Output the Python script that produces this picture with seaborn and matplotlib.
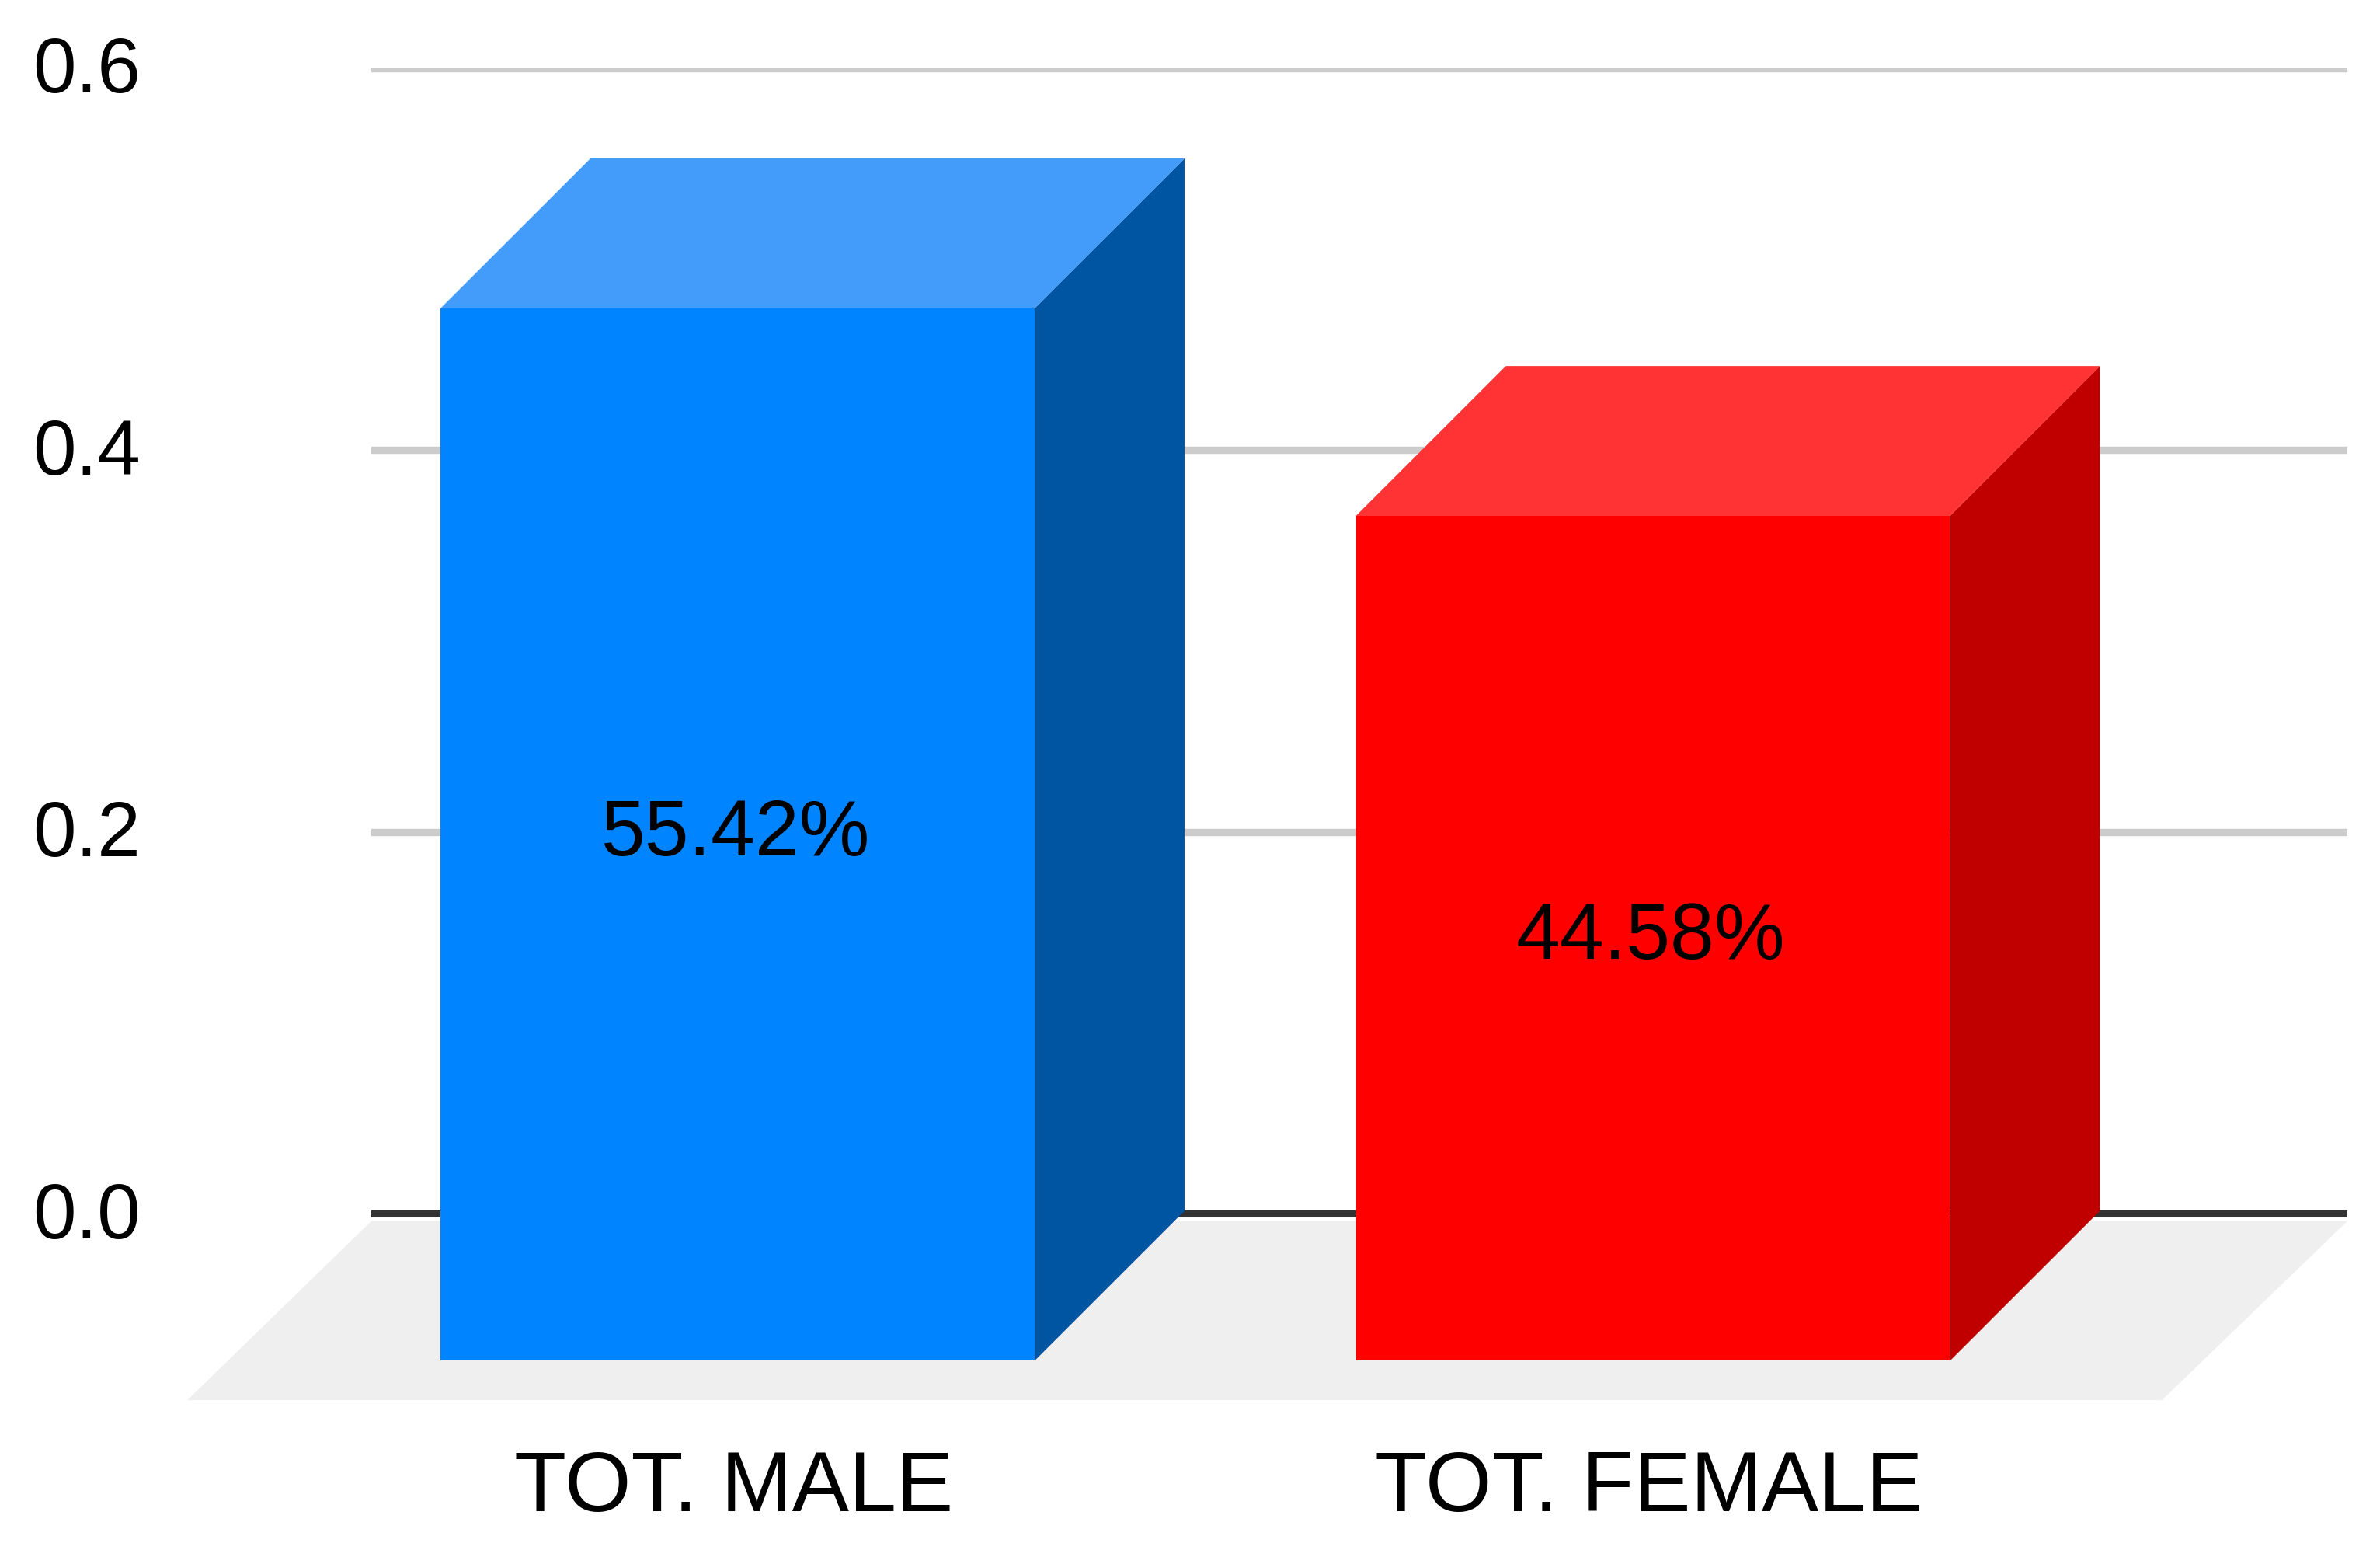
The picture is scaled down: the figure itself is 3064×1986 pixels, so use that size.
"""3D style bar chart: total male vs total female"""

import matplotlib
matplotlib.use("Agg")
import matplotlib.pyplot as plt
import matplotlib.transforms as mtrans
import seaborn as sns

categories = ["TOT. MALE", "TOT. FEMALE"]
bar_heights = [0.5512, 0.4425]
bar_labels = ["55.42%", "44.58%"]
y_ticks = [0.0, 0.2, 0.4, 0.6]

front_colors = ["#0084FF", "#FF0000"]
top_colors = ["#439CFA", "#FF3333"]
side_colors = ["#0055A3", "#C00000"]

# depth of the fake 3D, in data units
depth_x = 0.1638
depth_y = 0.0785
front_base = -0.0769

sns.set_theme(style="white")
plt.rcParams["font.family"] = ["Liberation Sans", "DejaVu Sans"]

fig = plt.figure(figsize=(30.64, 19.86), dpi=100)
ax = fig.add_axes([478 / 3064, 184 / 1986, 2544 / 3064, 1714 / 1986])

sns.barplot(x=categories, y=bar_heights, hue=categories, palette=front_colors,
            width=0.649, bottom=front_base, saturation=1, legend=False,
            linewidth=0, ax=ax, zorder=3)

# side and top faces follow the bars seaborn drew
for i, cont in enumerate(ax.containers):
    bar = cont[0]
    x0, x1 = bar.get_x(), bar.get_x() + bar.get_width()
    y0, y1 = bar.get_y(), bar.get_y() + bar.get_height()
    ax.fill([x1, x1 + depth_x, x1 + depth_x, x1],
            [y0, y0 + depth_y, y1 + depth_y, y1],
            color=side_colors[i], lw=0, zorder=3, clip_on=False)
    ax.fill([x0, x1, x1 + depth_x, x0 + depth_x],
            [y1, y1, y1 + depth_y, y1 + depth_y],
            color=top_colors[i], lw=0, zorder=3, clip_on=False)
    labels = ax.bar_label(cont, labels=[bar_labels[i]], label_type="center",
                          fontsize=73.5, color="black", zorder=5)
    labels[0].xyann = (-2, 0)

# floor
ax.fill([-0.601, 1.556, 1.7586, -0.4], [-0.0975, -0.0975, -0.0037, -0.0037],
        color="#EFEFEF", lw=0, zorder=0.5, clip_on=False)

ax.set_xlim(-0.4001, 1.7586)
ax.set_ylim(-0.09746, 0.6)
ax.set_yticks(y_ticks)
ax.set_yticklabels([f"{v:.1f}" for v in y_ticks])
ax.yaxis.grid(True, color="#CCCCCC", linewidth=6.8)
ax.yaxis.get_gridlines()[0].set_visible(False)
ax.xaxis.grid(False)
ax.set_axisbelow(True)
ax.axhline(0, color="#333333", linewidth=6.5, zorder=1.5)
ax.tick_params(axis="y", length=0, pad=214, labelsize=72, labelcolor="black")
ax.tick_params(axis="x", length=0, pad=46, labelsize=79, labelcolor="black")
ax.patch.set_alpha(0)
sns.despine(ax=ax, left=True, bottom=True)

# nudge tick labels to where the original has them
for lab in ax.get_yticklabels():
    lab.set_transform(lab.get_transform() + mtrans.ScaledTranslation(0, 3.6 / 72, fig.dpi_scale_trans))
for lab in ax.get_xticklabels():
    lab.set_transform(lab.get_transform() + mtrans.ScaledTranslation(-3.6 / 72, 0, fig.dpi_scale_trans))

fig.savefig("out.png", dpi=100, facecolor="white")
plt.close()
